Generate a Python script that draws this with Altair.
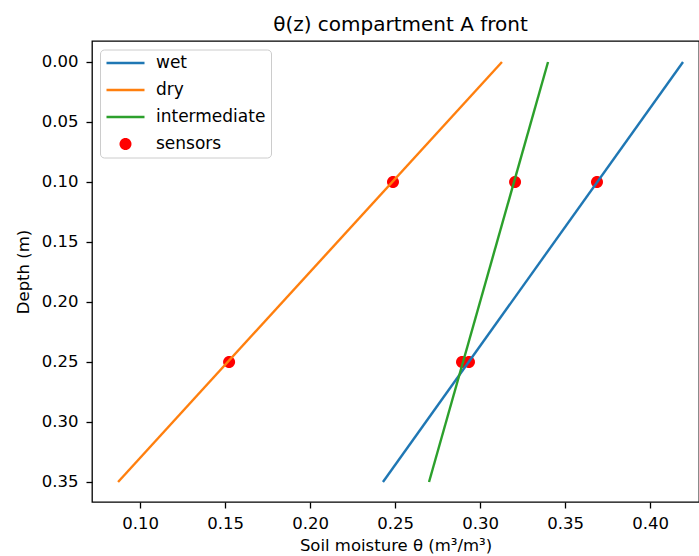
import altair as alt
import pandas as pd

# ---- data ----
series_names = ["wet", "dry", "intermediate"]
line_depth = [0.0, 0.35]
wet_theta = [0.4194, 0.2429]
dry_theta = [0.3129, 0.0871]
intermediate_theta = [0.3400, 0.2700]

sensor_depth = [0.10, 0.10, 0.10, 0.25, 0.25, 0.25]
sensor_theta = [0.2488, 0.3206, 0.3688, 0.1524, 0.2894, 0.2935]

x_ticks = [0.10, 0.15, 0.20, 0.25, 0.30, 0.35, 0.40]
y_ticks = [0.00, 0.05, 0.10, 0.15, 0.20, 0.25, 0.30, 0.35]

legend_order = ["wet", "dry", "intermediate", "sensors"]
line_colors = ["#1f77b4", "#ff7f0e", "#2ca02c", "transparent"]
fill_colors = ["transparent", "transparent", "transparent", "#ff0000"]

rows = []
for name, vals in zip(series_names, [wet_theta, dry_theta, intermediate_theta]):
    for d, t in zip(line_depth, vals):
        rows.append({"series": name, "depth": d, "theta": t})
lines_df = pd.DataFrame(rows)
sensors_df = pd.DataFrame({"series": ["sensors"] * len(sensor_depth),
                           "depth": sensor_depth, "theta": sensor_theta})

FONT = "DejaVu Sans"
CIRCLE = "M0.316,0A0.316,0.316,0,1,1,-0.316,0A0.316,0.316,0,1,1,0.316,0Z"
LINE = "M-1,0L1,0"
shape_range = [LINE, LINE, LINE, CIRCLE]


def make_legend():
    return alt.Legend(
        title=None, orient="none", legendX=8, legendY=8.5,
        padding=5, fillColor="rgba(255,255,255,0.8)", strokeColor="#cccccc",
        cornerRadius=4, symbolSize=1444, symbolStrokeWidth=2.4,
        labelOffset=10, rowPadding=9, clipHeight=17,
        labelFont=FONT, labelFontSize=17, labelColor="black",
    )


x = alt.X("theta:Q",
          scale=alt.Scale(domain=[0.07176, 0.4288], nice=False, zero=False),
          axis=alt.Axis(values=x_ticks, format=".2f",
                        title="Soil moisture θ (m³/m³)",
                        labelPadding=7, titlePadding=6))
y = alt.Y("depth:Q",
          scale=alt.Scale(domain=[-0.0175, 0.3667], nice=False, zero=False,
                          reverse=True),
          axis=alt.Axis(values=y_ticks, format=".2f", title="Depth (m)",
                        labelPadding=8, titlePadding=10))

stroke_enc = alt.Stroke("series:N",
                        scale=alt.Scale(domain=legend_order, range=line_colors),
                        legend=make_legend())
fill_enc = alt.Fill("series:N",
                    scale=alt.Scale(domain=legend_order, range=fill_colors),
                    legend=make_legend())
shape_enc = alt.Shape("series:N",
                      scale=alt.Scale(domain=legend_order, range=shape_range),
                      legend=make_legend())

points = alt.Chart(sensors_df).mark_point(
    filled=True, size=1444, opacity=1, strokeWidth=0
).encode(x=x, y=y, fill=fill_enc, shape=shape_enc)

lines = alt.Chart(lines_df).mark_line(strokeWidth=2.4, clip=True).encode(
    x=x, y=y, stroke=stroke_enc, detail="series:N", order="depth:Q"
)

chart = alt.layer(points, lines).properties(
    width=607, height=461,
    autosize=alt.AutoSizeParams(type="none"),
    padding={"left": 92, "top": 41, "right": 0, "bottom": 54},
    title=alt.TitleParams("θ(z) compartment A front", font=FONT, fontSize=20,
                          fontWeight="normal", color="black", offset=6,
                          anchor="middle", dx=5),
).configure_axis(
    labelFont=FONT, labelFontSize=16.5, labelColor="black",
    titleFont=FONT, titleFontSize=16.5, titleFontWeight="normal",
    titleColor="black", grid=False, domain=False,
    tickColor="black", tickSize=6, tickWidth=1.3,
).configure_view(stroke="black", strokeWidth=1.3)

chart.save("out.html", embed_options={"renderer": "svg", "actions": False})
